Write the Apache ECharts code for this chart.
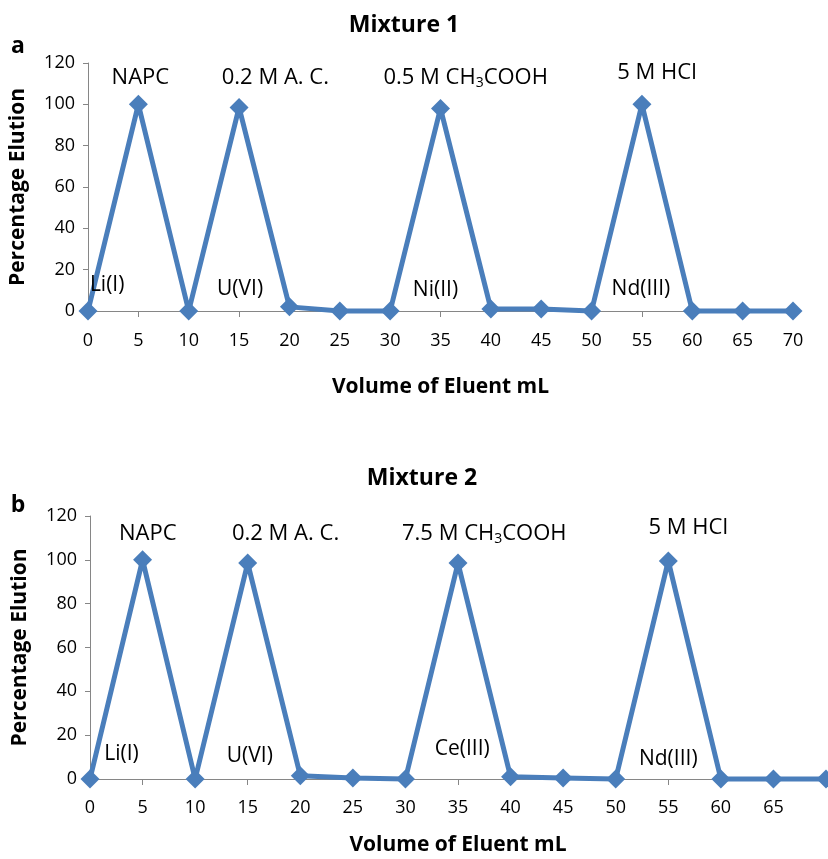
<!DOCTYPE html>
<html>
<head>
<meta charset="utf-8">
<script src="https://cdn.jsdelivr.net/npm/echarts@6/dist/echarts.min.js"></script>
<style>
  html, body { margin: 0; padding: 0; background: #fff; }
  #main { width: 828px; height: 859px; }
</style>
</head>
<body>
<div id="main"></div>
<script>
// volume of eluent (mL), category labels
var volumes = ['0', '5', '10', '15', '20', '25', '30', '35', '40', '45', '50', '55', '60', '65', '70'];

// percentage elution, mixture 1 and 2
var mix1Values = [0, 100, 0, 98.5, 2, 0, 0, 98, 1, 1, 0, 100, 0, 0, 0];
var mix2Values = [0, 100, 0, 98.5, 1.5, 0.5, 0, 98.5, 1, 0.5, 0, 99.5, 0, 0, 0];

// eluent labels above the peaks, ion labels under them (x in mL, y in %)
var mix1Eluents = ['NAPC', '0.2 M A. C.', '0.5 M CH{sub|3}COOH', '5 M HCl'];
var mix1EluentAt = [[5.2, 113], [18.6, 113], [37.5, 113], [56.5, 115.5]];
var mix1Ions = ['Li(I)', 'U(VI)', 'Ni(II)', 'Nd(III)'];
var mix1IonAt = [[1.9, 12.6], [15.1, 10.6], [34.5, 10], [54.9, 10.6]];

var mix2Eluents = ['NAPC', '0.2 M A. C.', '7.5 M CH{sub|3}COOH', '5 M HCl'];
var mix2EluentAt = [[5.5, 112], [18.6, 112], [37.5, 112], [56.9, 114.6]];
var mix2Ions = ['Li(I)', 'U(VI)', 'Ce(III)', 'Nd(III)'];
var mix2IonAt = [[3.0, 11.4], [15.2, 10.5], [35.4, 13.7], [55.0, 9.1]];

var FONT = '"Open Sans", "Noto Sans", sans-serif';
var BLUE = '#4a7ebb';
var GREY = '#868686';

function xAxisFor(grid, nameGap, labelMargin, lastLabel) {
  return {
    type: 'category',
    gridIndex: grid,
    data: volumes,
    boundaryGap: false,
    name: 'Volume of Eluent mL',
    nameLocation: 'middle',
    nameGap: nameGap,
    nameTextStyle: { fontFamily: FONT, fontSize: 21, fontWeight: 'bold', color: '#000' },
    axisLine: { onZero: true, lineStyle: { color: GREY, width: 1 } },
    axisTick: {
      show: true, length: 6, lineStyle: { color: GREY },
      interval: function (i) { return i % 2 === 1; }
    },
    axisLabel: {
      fontFamily: FONT, fontSize: 18, color: '#000', margin: labelMargin,
      interval: function (i) { return i <= lastLabel; }
    },
    splitLine: { show: false }
  };
}

function yAxisFor(grid) {
  return {
    type: 'value',
    gridIndex: grid,
    min: 0, max: 120, interval: 20,
    name: 'Percentage Elution',
    nameLocation: 'middle',
    nameGap: 59,
    nameTextStyle: { fontFamily: FONT, fontSize: 21, fontWeight: 'bold', color: '#000' },
    axisLine: { show: true, lineStyle: { color: GREY, width: 1 } },
    axisTick: { show: true, length: 5, lineStyle: { color: GREY } },
    axisLabel: { fontFamily: FONT, fontSize: 18, color: '#000', margin: 13 },
    splitLine: { show: false }
  };
}

function seriesFor(grid, values) {
  return {
    type: 'line',
    xAxisIndex: grid,
    yAxisIndex: grid,
    data: values,
    symbol: 'diamond',
    symbolSize: 19,
    showAllSymbol: true,
    clip: false,
    lineStyle: { color: BLUE, width: 5 },
    itemStyle: { color: BLUE },
    z: 3
  };
}

var myChart = echarts.init(document.getElementById('main'), null, { renderer: 'canvas' });

var option = {
  backgroundColor: '#fff',
  animation: false,
  grid: [
    { left: 88, top: 63, width: 705, height: 248 },
    { left: 90, top: 516, width: 736, height: 263 }
  ],
  xAxis: [xAxisFor(0, 66, 21, 14), xAxisFor(1, 56, 20, 13)],
  yAxis: [yAxisFor(0), yAxisFor(1)],
  series: [seriesFor(0, mix1Values), seriesFor(1, mix2Values)]
};

myChart.setOption(option);

/************** text on the plots ***************/
function textEl(x, y, str, size, bold) {
  return {
    type: 'text', x: x, y: y, z: 10,
    style: {
      text: str, fontFamily: FONT, fontSize: size, fontWeight: bold ? 'bold' : 'normal',
      fill: '#000', align: 'center', verticalAlign: 'middle',
      rich: { sub: { fontFamily: FONT, fontSize: 14, fill: '#000', padding: [11, 0, 0, 0] } }
    }
  };
}

// category axis rounds fractional indexes, so interpolate between two categories
function labelsFor(grid, texts, spots, size) {
  return texts.map(function (t, i) {
    var ref = { xAxisIndex: grid, yAxisIndex: grid };
    var p0 = myChart.convertToPixel(ref, [0, spots[i][1]]);
    var p1 = myChart.convertToPixel(ref, [1, spots[i][1]]);
    var x = p0[0] + (p1[0] - p0[0]) * spots[i][0] / 5;
    return textEl(x, p0[1], t, size, false);
  });
}

var graphics = [
  textEl(404, 25, 'Mixture 1', 23, true),
  textEl(422, 478, 'Mixture 2', 23, true),
  textEl(18, 46, 'a', 23, true),
  textEl(18, 505, 'b', 23, true)
];
graphics = graphics
  .concat(labelsFor(0, mix1Eluents, mix1EluentAt, 22))
  .concat(labelsFor(0, mix1Ions, mix1IonAt, 21))
  .concat(labelsFor(1, mix2Eluents, mix2EluentAt, 22))
  .concat(labelsFor(1, mix2Ions, mix2IonAt, 21));

myChart.setOption({ graphic: graphics });
</script>
</body>
</html>
